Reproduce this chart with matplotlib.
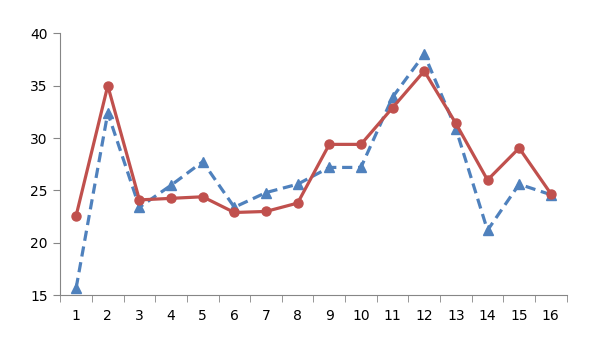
import matplotlib
matplotlib.use("Agg")
import matplotlib.pyplot as plt
import numpy as np

categories = [str(i) for i in range(1, 17)]
series_red = [22.6, 35.0, 24.1, 24.25, 24.4, 22.9, 23.0, 23.8,
              29.4, 29.4, 32.9, 36.4, 31.4, 26.0, 29.05, 24.7]
series_blue = [15.7, 32.4, 23.4, 25.5, 27.75, 23.4, 24.8, 25.6,
               27.2, 27.2, 33.9, 38.0, 30.9, 21.2, 25.6, 24.6]
y_ticks = [15, 20, 25, 30, 35, 40]

fig = plt.figure(figsize=(5.89, 3.53), dpi=100)
ax = fig.add_axes([0.1024, 0.1635, 0.8596, 0.7422])

x = np.arange(1, len(categories) + 1)
ax.plot(x, series_blue, color='#4F81BD', linestyle=(0, (3.2, 1.8)), linewidth=2.3,
        marker='^', markersize=7, zorder=2)
ax.plot(x, series_red, color='#C0504D', linestyle='-', linewidth=2.3,
        marker='o', markersize=6.5, zorder=3)

ax.set_xlim(0.5, len(categories) + 0.5)
ax.set_ylim(15, 40)
ax.set_yticks(y_ticks)
ax.set_xticks(x)
ax.set_xticklabels(categories)
ax.set_xticks(np.arange(0.5, len(categories) + 1), minor=True)
ax.tick_params(axis='x', which='major', length=0, pad=10, labelsize=10)
ax.tick_params(axis='x', which='minor', length=5, color='#868686')
ax.tick_params(axis='y', which='major', length=5, color='#868686', labelsize=10, pad=4)

for side in ['top', 'right']:
    ax.spines[side].set_visible(False)
for side in ['left', 'bottom']:
    ax.spines[side].set_color('#868686')

fig.savefig('out.png', dpi=100)
